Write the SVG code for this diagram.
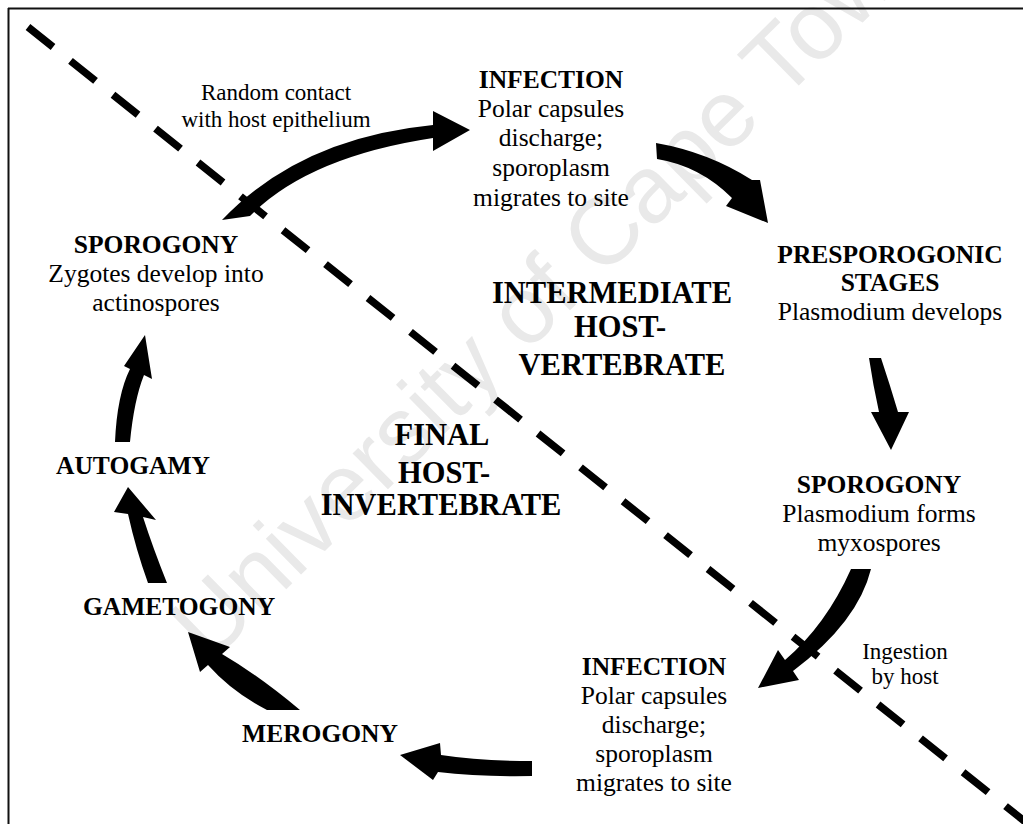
<svg xmlns="http://www.w3.org/2000/svg" width="1023" height="824" viewBox="0 0 1023 824">
<style>
text{font-family:"Liberation Serif","Times New Roman",serif;fill:#000;text-anchor:middle}
.n{font-size:25.5px}
.b{font-size:25.5px;font-weight:bold}
.l{font-size:23px}
.big{font-size:30.5px;font-weight:bold}
.arrow{fill:#000;stroke:none}
.wm{font-family:"Liberation Sans",Arial,sans-serif;font-size:95px;fill:#e9e9e9;text-anchor:start}
</style>
<rect width="1023" height="824" fill="#fff"/>
<text class="wm" transform="translate(210,664) rotate(-44.5)">University of Cape Town</text>
<g id="frame" stroke="#111" stroke-width="2" fill="none">
<line x1="8" y1="8.5" x2="1023" y2="8.5"/>
<line x1="8.5" y1="8" x2="8.5" y2="824"/>
</g>
<g id="divider">
<line x1="28" y1="27" x2="1030" y2="825.6" stroke="#000" stroke-width="7.5" stroke-dasharray="32 22.35"/>
</g>
<g id="connectors">
<path class="arrow" d="M222,220 Q300,138 433,125 L433,111 L470,130 L433,151 L433,138 Q308,157 250,216 Z"/>
<path class="arrow" d="M656,143 Q708,152 752,180 L760,180 L768,223 L726,206 L732,198 Q700,166 657,159 Z"/>
<path class="arrow" d="M869,358 L881,358 Q890,385 898,412 L909,412 L891,450 L871,412 L879,412 Q873,385 869,358 Z"/>
<path class="arrow" d="M851,569 L871,569 Q858,622 793,671 L799,680 L758,688 L778,650 L785,660 Q826,625 851,569 Z"/>
<path class="arrow" d="M532,761 Q480,761 441,755 L440,743 L400,755 L433,780 L438,772 Q480,777 532,776 Z"/>
<path class="arrow" d="M267,710 L300,710 Q258,675 222,654 L230,647 L188,632 L200,672 L208,665 Q232,692 267,710 Z"/>
<path class="arrow" d="M148,583 L167,583 Q153,548 143,517 L156,520 L128,487 L114,512 L128,514 Q136,550 148,583 Z"/>
<path class="arrow" d="M115,442 L130,442 Q134,400 144,375 L152,379 L145,335 L124,366 L130,369 Q117,395 115,442 Z"/>
</g>
<g id="label-random-contact">
<text class="l" x="276" y="100">Random contact</text>
<text class="l" x="276" y="127">with host epithelium</text>
</g>
<g id="node-infection-top">
<text class="b" x="551" y="88">INFECTION</text>
<text class="n" x="551" y="117">Polar capsules</text>
<text class="n" x="551" y="146">discharge;</text>
<text class="n" x="551" y="176">sporoplasm</text>
<text class="n" x="551" y="206">migrates to site</text>
</g>
<g id="node-presporogonic">
<text class="b" x="890" y="263">PRESPOROGONIC</text>
<text class="b" x="890" y="291">STAGES</text>
<text class="n" x="890" y="320">Plasmodium develops</text>
</g>
<g id="node-sporogony-right">
<text class="b" x="879" y="493">SPOROGONY</text>
<text class="n" x="879" y="522">Plasmodium forms</text>
<text class="n" x="879" y="551">myxospores</text>
</g>
<g id="label-ingestion">
<text class="l" x="905" y="659">Ingestion</text>
<text class="l" x="905" y="684">by host</text>
</g>
<g id="node-infection-bottom">
<text class="b" x="654" y="675">INFECTION</text>
<text class="n" x="654" y="704">Polar capsules</text>
<text class="n" x="654" y="733">discharge;</text>
<text class="n" x="654" y="762">sporoplasm</text>
<text class="n" x="654" y="791">migrates to site</text>
</g>
<g id="node-merogony">
<text class="b" x="320" y="742">MEROGONY</text>
</g>
<g id="node-gametogony">
<text class="b" x="179" y="615">GAMETOGONY</text>
</g>
<g id="node-autogamy">
<text class="b" x="133" y="474">AUTOGAMY</text>
</g>
<g id="node-sporogony-left">
<text class="b" x="156" y="253">SPOROGONY</text>
<text class="n" x="156" y="282">Zygotes develop into</text>
<text class="n" x="156" y="311">actinospores</text>
</g>
<g id="region-intermediate">
<text class="big" x="612" y="303">INTERMEDIATE</text>
<text class="big" x="620" y="337">HOST-</text>
<text class="big" x="622" y="375">VERTEBRATE</text>
</g>
<g id="region-final">
<text class="big" x="442" y="445">FINAL</text>
<text class="big" x="444" y="483">HOST-</text>
<text class="big" x="441" y="515">INVERTEBRATE</text>
</g>
</svg>
